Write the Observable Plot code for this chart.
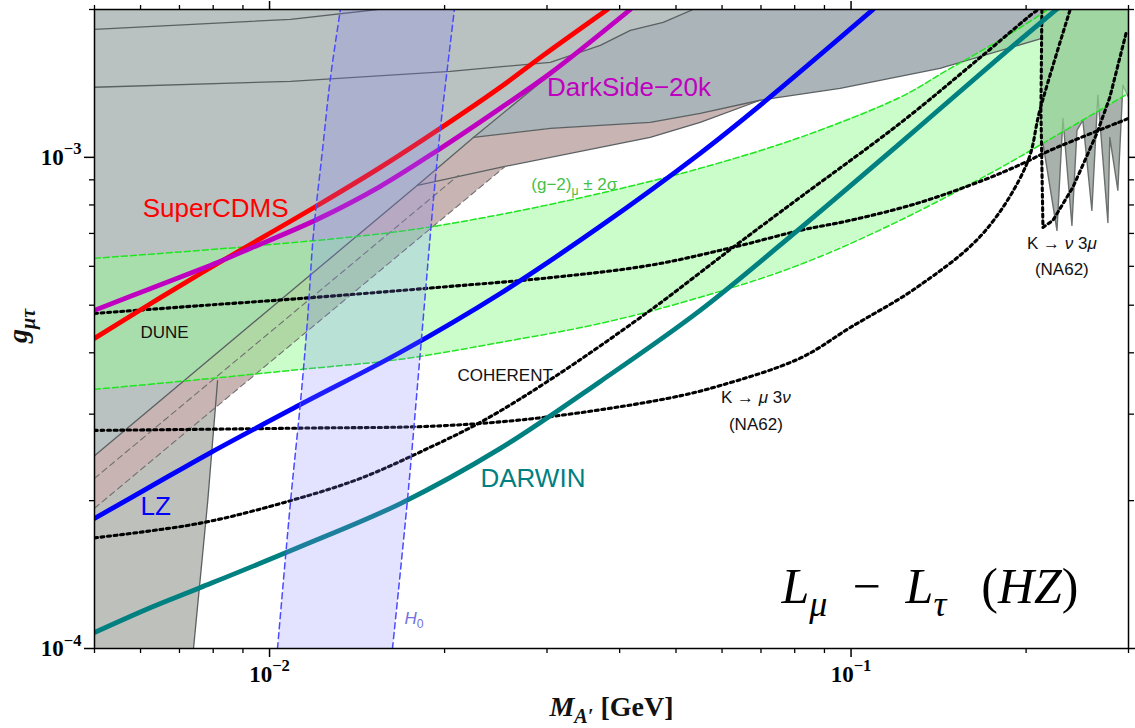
<!DOCTYPE html>
<html><head><meta charset="utf-8">
<script src="https://cdn.jsdelivr.net/npm/d3@7"></script>
<script src="https://cdn.jsdelivr.net/npm/@observablehq/plot@0.6"></script>
<style>body{margin:0;background:#fff}</style>
</head><body><div id="chart"></div>
<script>
// ---------- data: [M_A' (GeV), g_mu_tau] ----------
const superCDMS = [[5.0e-3,4.28e-4],[6.25e-3,5.04e-4],[7.61e-3,5.80e-4],[8.67e-3,6.35e-4],[1.209e-2,7.98e-4],[1.551e-2,9.54e-4],[1.967e-2,1.146e-3],[2.494e-2,1.389e-3],[2.956e-2,1.613e-3],[3.81e-2,2.0e-3]];
const darkSide = [[5.0e-3,4.88e-4],[6.25e-3,5.41e-4],[8.14e-3,6.11e-4],[9.28e-3,6.53e-4],[1.209e-2,7.48e-4],[1.551e-2,8.73e-4],[1.944e-2,1.033e-3],[2.494e-2,1.259e-3],[3.04e-2,1.483e-3],[4.173e-2,2.0e-3]];
const lz = [[5.0e-3,1.84e-4],[6.25e-3,2.138e-4],[7.92e-3,2.506e-4],[1.131e-2,3.14e-4],[1.679e-2,4.01e-4],[2.494e-2,5.284e-4],[3.705e-2,7.237e-4],[5.502e-2,1.019e-3],[6.976e-2,1.276e-3],[0.1091,2.0e-3]];
const darwin = [[5.0e-3,1.078e-4],[6.25e-3,1.212e-4],[7.61e-3,1.331e-4],[1.131e-2,1.613e-4],[1.679e-2,1.973e-4],[2.494e-2,2.555e-4],[3.705e-2,3.498e-4],[5.502e-2,4.88e-4],[8.173e-2,7.17e-4],[0.1214,1.068e-3],[0.180,1.598e-3],[0.2287,2.029e-3]];

const dune = [[5e-3,4.81e-4],[7.61e-3,4.99e-4],[1.131e-2,5.16e-4],[1.967e-2,5.44e-4],[3.04e-2,5.69e-4],[4.514e-2,6.03e-4],[6.271e-2,6.56e-4],[8.173e-2,7.10e-4],[9.961e-2,7.44e-4],[0.1299,8.06e-4],[0.1686,8.98e-4],[0.1975,9.72e-4],[0.2198,1.033e-3],[0.3,1.2e-3]];
const coherent = [[5e-3,1.68e-4],[7.61e-3,1.80e-4],[1.087e-2,2.0e-4],[1.433e-2,2.22e-4],[1.891e-2,2.57e-4],[2.332e-2,2.91e-4],[3.076e-2,3.56e-4],[4.514e-2,4.88e-4],[6.271e-2,6.56e-4],[8.173e-2,8.29e-4],[0.1214,1.173e-3],[0.1646,1.576e-3],[0.2055,1.965e-3],[0.2112,2.011e-3]];
const kMu3Nu = [[5e-3,2.78e-4],[1.131e-2,2.81e-4],[1.967e-2,2.84e-4],[2.956e-2,2.954e-4],[4.829e-2,3.229e-4],[5.957e-2,3.43e-4],[8.173e-2,3.90e-4],[9.961e-2,4.50e-4],[0.1299,5.44e-4],[0.1686,7.00e-4],[0.2007,9.72e-4],[0.2112,1.247e-3],[0.2379,1.992e-3]];
const kNu3Mu = [[0.2129,2.0e-3],[0.2121,1.247e-3],[0.2138,7.20e-4],[0.2224,7.44e-4],[0.2407,8.69e-4],[0.2647,1.119e-3],[0.2786,1.325e-3],[0.2980,1.814e-3]];

// g-2 band edges and H0 band edges
const g2Upper = [[5e-3,6.23e-4],[9.28e-3,6.59e-4],[1.679e-2,7.07e-4],[2.494e-2,7.65e-4],[3.705e-2,8.45e-4],[5.502e-2,9.50e-4],[8.173e-2,1.098e-3],[0.1214,1.325e-3],[0.1462,1.504e-3],[0.180,1.731e-3],[0.2172,1.992e-3],[0.2242,2.05e-3]];
const g2Lower = [[5e-3,3.37e-4],[7.61e-3,3.53e-4],[1.131e-2,3.70e-4],[1.679e-2,3.88e-4],[2.494e-2,4.20e-4],[3.705e-2,4.59e-4],[5.502e-2,5.19e-4],[8.173e-2,6.05e-4],[0.1214,7.44e-4],[0.180,9.50e-4],[0.2138,1.068e-3],[0.3,1.350e-3]];
const h0Left = [[1.032e-2,1e-4],[1.087e-2,2e-4],[1.131e-2,3.2e-4],[1.162e-2,4.66e-4],[1.190e-2,7.0e-4],[1.233e-2,1.033e-3],[1.273e-2,1.455e-3],[1.324e-2,2e-3]];
const h0Right = [[1.627e-2,1e-4],[1.726e-2,2e-4],[1.818e-2,4.05e-4],[1.913e-2,8.17e-4],[1.967e-2,1.146e-3],[2.046e-2,1.707e-3],[2.079e-2,2e-3]];

// excluded-region boundaries
const nEffEdge = [[7.40e-3,1e-4],[7.83e-3,2.0e-4],[8.14e-3,3.51e-4]];
const diagonal = [[5e-3,2.47e-4],[1.796e-2,8.77e-4],[2.242e-2,1.098e-3],[3.162e-2,1.532e-3]];
const upperEdge = [[2.242e-2,1.098e-3],[3.04e-2,1.146e-3],[4.514e-2,1.178e-3],[5.502e-2,1.229e-3],[6.976e-2,1.307e-3],[9.574e-2,1.382e-3],[0.1422,1.518e-3],[0.2129,1.747e-3]];
const lowerEdge = [[1.796e-2,8.77e-4],[2.494e-2,9.54e-4],[3.705e-2,1.048e-3],[4.514e-2,1.098e-3],[5.502e-2,1.178e-3],[6.976e-2,1.307e-3]];
const lineA = [[5e-3,1.822e-3],[1.087e-2,1.910e-3],[1.533e-2,2e-3]];
const lineB = [[5e-3,1.389e-3],[1.087e-2,1.428e-3],[2.046e-2,1.497e-3],[3.04e-2,1.561e-3],[3.705e-2,1.691e-3],[4.173e-2,1.814e-3],[4.753e-2,1.883e-3],[5.352e-2,2e-3]];
const dashed1 = [[5e-3,2.22e-4],[2.112e-2,9.19e-4]];
const dashed2 = [[5e-3,1.93e-4],[2.544e-2,9.59e-4]];
const kaonSpikes = [[0.2129,2e-3],[0.3,2e-3],[0.3,1.325e-3],[0.2934,1.402e-3],[0.2876,8.57e-4],[0.2786,1.098e-3],[0.2765,7.37e-4],[0.2657,1.338e-3],[0.2595,7.80e-4],[0.2504,1.190e-3],[0.2446,1.135e-3],[0.2398,7.27e-4],[0.2314,1.200e-3],[0.2260,7.10e-4],[0.2138,1.068e-3]];

// axis ticks
const xMajor = [0.01, 0.1];
const xMinor = [0.005,0.006,0.007,0.008,0.009,0.02,0.03,0.04,0.05,0.06,0.07,0.08,0.09,0.2,0.3];
const yMajor = [1e-4, 1e-3];
const yMinor = [2e-4,3e-4,4e-4,5e-4,6e-4,7e-4,8e-4,9e-4,2e-3];

// annotation anchors [M, g]
const labelAt = {
  superCDMS: [6.05e-3, 7.55e-4], darkSide: [3.0e-2, 1.331e-3], lz: [6.0e-3, 1.866e-4], darwin: [2.305e-2, 2.128e-4],
  dune: [6.0e-3, 4.28e-4], coherent: [2.104e-2, 3.51e-4], kMu3Nu: [6.86e-2, 3.155e-4], kMu3NuExp: [6.86e-2, 2.78e-4],
  kNu3Mu: [0.2304, 6.50e-4], kNu3MuExp: [0.2304, 5.75e-4], g2: [2.819e-2, 8.57e-4], h0: [1.706e-2, 1.124e-4],
  model: [0.1367, 1.235e-4]
};

// ---------- derived polygons ----------
const nEffRegion = [[5e-3,1e-4], ...nEffEdge, [5e-3, nEffEdge[2][1]]];
const lightGray = [[5e-3,2e-3], ...diagonal, [3.356e-2,1.621e-3], ...lineB.slice(4)];
const blueGray = [[upperEdge[0][0],2e-3], ...upperEdge, [upperEdge[upperEdge.length-1][0],2e-3]];
const brownUpper = [...upperEdge.slice(0,5), ...lowerEdge.slice(0,5).reverse()];
const brownDiag = [diagonal[0], diagonal[1], dashed2[1], dashed2[0]];
const g2Band = [...g2Upper, [0.3,2.05e-3], ...g2Lower.slice().reverse()];
const h0Band = [...h0Left, ...h0Right.slice().reverse()];

const X = d => d[0], Y = d => d[1];
const poly = (data, fill, o = {}) => Plot.line(data, {x: X, y: Y, fill, stroke: "none", clip: true, ...o});
const path = (data, o) => Plot.line(data, {x: X, y: Y, fill: "none", clip: true, ...o});
const edge = {stroke: "#5b6062", strokeWidth: 1.3};
const dots = {stroke: "#000", strokeWidth: 3.1, strokeDasharray: "3,3.6", curve: "catmull-rom"};
const thick = {strokeWidth: 4.8, curve: "catmull-rom"};
const lab = (key, text, o) => Plot.text([labelAt[key]], {x: X, y: Y, text: () => text, lineAnchor: "bottom", fontFamily: "Liberation Sans", ...o});
const sup = d => `10^{−${Math.round(-Math.log10(d))}}`;
const axisText = {fontSize: 23, fontWeight: "bold", fontFamily: "Liberation Serif"};

const plot = Plot.plot({
  width: 1135, height: 728,
  marginLeft: 94, marginRight: 7, marginTop: 9, marginBottom: 80,
  x: {type: "log", domain: [0.005, 0.3]},
  y: {type: "log", domain: [1e-4, 2e-3]},
  style: {background: "white", fontFamily: "Liberation Serif", overflow: "visible"},
  marks: [
    poly(nEffRegion, "#bec1bb"),
    poly(blueGray, "#aab4b9"),
    poly(brownUpper, "#c8b5b3"),
    poly(brownDiag, "#c8b5b3"),
    poly(lightGray, "#b9c1c1"),
    poly(kaonSpikes, "#a9b1ad", {stroke: "#6b706e", strokeWidth: 1.4}),
    poly(g2Band, "#98fb98", {fillOpacity: 0.5}),
    path(lineA, edge), path(lineB, edge), path(diagonal, edge), path(upperEdge, edge), path(lowerEdge, edge), path(nEffEdge, edge),
    path(dashed1, {stroke: "#707070", strokeWidth: 1.1, strokeDasharray: "6,4"}),
    path(dashed2, {stroke: "#707070", strokeWidth: 1.1, strokeDasharray: "6,4"}),
    path(g2Upper, {stroke: "#1fe61f", strokeWidth: 1.5, strokeDasharray: "6,3", curve: "catmull-rom"}),
    path(g2Lower, {stroke: "#1fe61f", strokeWidth: 1.5, strokeDasharray: "6,3", curve: "catmull-rom"}),
    path(dune, dots), path(coherent, dots), path(kMu3Nu, dots),
    path(kNu3Mu, {...dots, curve: "linear"}),
    path(superCDMS, {...thick, stroke: "#ff0000"}),
    path(darkSide, {...thick, stroke: "#c000c0"}),
    path(lz, {...thick, stroke: "#0000ff"}),
    path(darwin, {...thick, stroke: "#008080"}),
    poly(h0Band, "#8080ff", {fillOpacity: 0.22}),
    path(h0Left, {stroke: "#4a4aff", strokeWidth: 1.5, strokeDasharray: "6,4", curve: "catmull-rom"}),
    path(h0Right, {stroke: "#4a4aff", strokeWidth: 1.5, strokeDasharray: "6,4", curve: "catmull-rom"}),
    Plot.frame({stroke: "black", strokeWidth: 1.5}),
    Plot.axisX(xMajor, {anchor: "bottom", tickSize: 9, tickPadding: 8, tickFormat: sup, strokeWidth: 1.5, label: null, ...axisText}),
    Plot.axisX(xMinor, {anchor: "bottom", tickSize: 5, tickFormat: () => "", strokeWidth: 1.3, label: null}),
    Plot.axisX(xMajor, {anchor: "top", tickSize: 9, tickFormat: () => "", strokeWidth: 1.5, label: null}),
    Plot.axisX(xMinor, {anchor: "top", tickSize: 5, tickFormat: () => "", strokeWidth: 1.3, label: null}),
    Plot.axisY(yMajor, {anchor: "left", tickSize: 10, tickPadding: 3, tickFormat: sup, strokeWidth: 1.5, label: null, ...axisText}),
    Plot.axisY(yMinor, {anchor: "left", tickSize: 5, tickFormat: () => "", strokeWidth: 1.3, label: null}),
    Plot.axisY(yMajor, {anchor: "right", tickSize: 10, tickFormat: () => "", strokeWidth: 1.5, label: null}),
    Plot.axisY(yMinor, {anchor: "right", tickSize: 5, tickFormat: () => "", strokeWidth: 1.3, label: null}),
    lab("superCDMS", "SuperCDMS", {fill: "#ff0000", fontSize: 26, textAnchor: "start"}),
    lab("darkSide", "DarkSide−20k", {fill: "#c000c0", fontSize: 26, textAnchor: "start"}),
    lab("lz", "LZ", {fill: "#0000ff", fontSize: 26, textAnchor: "start"}),
    lab("darwin", "DARWIN", {fill: "#008080", fontSize: 26, textAnchor: "start"}),
    lab("dune", "DUNE", {fill: "#111", fontSize: 17, textAnchor: "start"}),
    lab("coherent", "COHERENT", {fill: "#111", fontSize: 17, textAnchor: "start"}),
    lab("kMu3Nu", "K → *μ* 3*ν*", {fill: "#111", fontSize: 17, textAnchor: "middle"}),
    lab("kMu3NuExp", "(NA62)", {fill: "#111", fontSize: 17, textAnchor: "middle"}),
    lab("kNu3Mu", "K → *ν* 3*μ*", {fill: "#111", fontSize: 17, textAnchor: "middle"}),
    lab("kNu3MuExp", "(NA62)", {fill: "#111", fontSize: 17, textAnchor: "middle"}),
    lab("g2", "(g−2)_{μ} ± 2σ", {fill: "#45bf45", fontSize: 17, textAnchor: "start"}),
    lab("h0", "*H*_{0}", {fill: "#7272dc", fontSize: 17, textAnchor: "start"}),
    lab("model", "*L*_{*μ*}\u2002−\u2002*L*_{*τ*}\u2002\u2009(*HZ*)", {fill: "#000", fontSize: 50, textAnchor: "middle", fontFamily: "Liberation Serif"}),
    Plot.text(["*M*_{*A′*} [GeV]"], {frameAnchor: "bottom", dy: 67, fontSize: 28, fontWeight: "bold", fontFamily: "Liberation Serif", fill: "#111"}),
    Plot.text(["*g*_{*μτ*}"], {frameAnchor: "left", dx: -76, dy: 14, rotate: -90, fontSize: 28, fontWeight: "bold", fontFamily: "Liberation Serif", fill: "#111"})
  ]
});

// rich text: *italic*, _{sub}, ^{sup}
const NS = "http://www.w3.org/2000/svg";
function richify(el) {
  const s = el.textContent;
  if (!/[*_^]/.test(s)) return;
  const runs = []; let italic = false, level = 0, cur = {t: "", italic, level};
  const push = () => { if (cur.t) runs.push(cur); cur = {t: "", italic, level}; };
  for (let i = 0; i < s.length; i++) {
    const c = s[i];
    if (c === "*") { push(); italic = !italic; cur.italic = italic; continue; }
    if ((c === "_" || c === "^") && s[i+1] === "{") { push(); level = c === "_" ? 1 : 2; cur.level = level; i++; continue; }
    if (c === "}" && level) { push(); level = 0; cur.level = 0; continue; }
    cur.t += c;
  }
  push();
  el.textContent = "";
  let prev = 0;
  for (const r of runs) {
    const f = r.level ? 0.72 : 1, shift = r.level === 1 ? 0.26 : r.level === 2 ? -0.45 : 0;
    const ts = document.createElementNS(NS, "tspan");
    ts.textContent = r.t;
    if (r.level) ts.setAttribute("font-size", f + "em");
    if (r.italic) ts.setAttribute("font-style", "italic");
    const dy = (shift - prev) / f;
    if (Math.abs(dy) > 1e-6) ts.setAttribute("dy", dy.toFixed(3) + "em");
    prev = shift;
    el.appendChild(ts);
  }
}
plot.querySelectorAll("text").forEach(richify);
document.getElementById("chart").append(plot);
</script></body></html>
